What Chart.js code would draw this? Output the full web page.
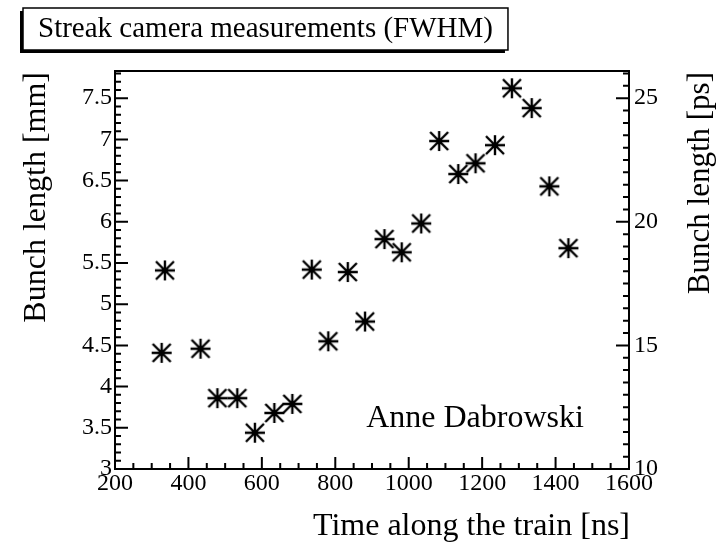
<!DOCTYPE html>
<html>
<head>
<meta charset="utf-8">
<title>Streak camera measurements (FWHM)</title>
<script src="https://cdn.jsdelivr.net/npm/chart.js@4.4.1/dist/chart.umd.min.js"></script>
<style>
  html, body { margin: 0; padding: 0; background: #fff; }
  #chart { display: block; }
</style>
</head>
<body>
<canvas id="chart" width="720" height="543"></canvas>
<script>
// Measured points: time along the train [ns] and bunch length [mm]
var timeNs = [327, 336, 433, 479, 533, 581, 634, 683, 736, 781, 834, 881,
              934, 981, 1034, 1083, 1135, 1182, 1235, 1281, 1335, 1383, 1435];
var bunchMm = [4.41, 5.41, 4.46, 3.86, 3.86, 3.44, 3.68, 3.79, 5.42, 4.55, 5.39, 4.79,
               5.79, 5.63, 5.98, 6.98, 6.58, 6.71, 6.93, 7.62, 7.38, 6.43, 5.68];

// Tick labels on the three axes
var timeTicks = [200, 400, 600, 800, 1000, 1200, 1400, 1600];
var mmTicks = [3, 3.5, 4, 4.5, 5, 5.5, 6, 6.5, 7, 7.5];
var psTicks = [10, 15, 20, 25];

// Axis ranges
var timeMin = 200, timeMax = 1600;
var mmMin = 3, mmMax = 7.83;
var mmPerPs = 0.3; // c = 0.3 mm/ps, used for the right hand axis

var serif = '"Liberation Serif", "DejaVu Serif", serif';

// Function to build the asterisk marker used for every point
function makeStarMarker() {
    var c = document.createElement('canvas');
    c.width = 24;
    c.height = 24;
    var g = c.getContext('2d');
    g.strokeStyle = '#000';
    g.lineWidth = 2.4;
    g.beginPath();
    g.moveTo(2, 12); g.lineTo(22, 12);
    g.moveTo(12, 2); g.lineTo(12, 22);
    g.moveTo(3, 3); g.lineTo(21, 21);
    g.moveTo(21, 3); g.lineTo(3, 21);
    g.stroke();
    return c;
}

// Function to replace the generated ticks with a fixed list
function fixedTicks(values) {
    return function (scale) {
        scale.ticks = values.map(function (v) { return { value: v }; });
    };
}

// Plugin drawing the ROOT style frame, inside ticks, titles and the note
var rootDecor = {
    id: 'rootDecor',
    afterDraw: function (chart) {
        var ctx = chart.ctx;
        var area = chart.chartArea;
        var xs = chart.scales.x;
        var yl = chart.scales.y;
        var yr = chart.scales.yPs;
        var i, p, len;

        ctx.save();
        ctx.strokeStyle = '#000';
        ctx.fillStyle = '#000';
        ctx.lineWidth = 2;

        // Frame round the plot
        ctx.strokeRect(area.left, area.top, area.right - area.left, area.bottom - area.top);

        ctx.beginPath();
        // Bottom axis ticks, major every 200 ns, minor every 50 ns
        for (i = 0; timeMin + i * 50 <= timeMax; i++) {
            p = xs.getPixelForValue(timeMin + i * 50);
            len = (i % 4 === 0) ? 12 : 6;
            ctx.moveTo(p, area.bottom);
            ctx.lineTo(p, area.bottom - len);
        }
        // Left axis ticks, major every 0.5 mm, minor every 0.1 mm
        for (i = 0; mmMin + i * 0.1 <= mmMax + 1e-9; i++) {
            p = yl.getPixelForValue(mmMin + i * 0.1);
            len = (i % 5 === 0) ? 13 : 6;
            ctx.moveTo(area.left, p);
            ctx.lineTo(area.left + len, p);
        }
        // Right axis ticks, major every 5 ps, minor every 0.5 ps
        for (i = 0; 10 + i * 0.5 <= yr.max + 1e-9; i++) {
            p = yr.getPixelForValue(10 + i * 0.5);
            len = (i % 10 === 0) ? 13 : 6;
            ctx.moveTo(area.right, p);
            ctx.lineTo(area.right - len, p);
        }
        ctx.stroke();

        // Header box with its shadow
        var header = 'Streak camera measurements (FWHM)';
        ctx.font = '29px ' + serif;
        var w = ctx.measureText(header).width;
        var bx = 23, by = 8, bw = w + 30, bh = 42;
        ctx.fillRect(bx - 3, by + 3, bw, bh);
        ctx.fillStyle = '#fff';
        ctx.fillRect(bx, by, bw, bh);
        ctx.lineWidth = 1.5;
        ctx.strokeRect(bx, by, bw, bh);
        ctx.fillStyle = '#000';
        ctx.textAlign = 'left';
        ctx.textBaseline = 'alphabetic';
        ctx.fillText(header, bx + 15, 37);

        // Axis titles
        ctx.font = '32px ' + serif;
        ctx.textAlign = 'right';
        ctx.fillText('Time along the train [ns]', area.right + 1, 535);

        ctx.save();
        ctx.translate(45, area.top + 1);
        ctx.rotate(-Math.PI / 2);
        ctx.fillText('Bunch length [mm]', 0, 0);
        ctx.restore();

        ctx.font = '31px ' + serif;
        ctx.save();
        ctx.translate(709, area.top + 1);
        ctx.rotate(-Math.PI / 2);
        ctx.fillText('Bunch length [ps]', 0, 0);
        ctx.restore();

        // Author note inside the plot
        ctx.font = '32px ' + serif;
        ctx.textAlign = 'left';
        ctx.fillText('Anne Dabrowski', xs.getPixelForValue(884), yl.getPixelForValue(3.51));

        ctx.restore();
    }
};

var points = timeNs.map(function (t, k) { return { x: t, y: bunchMm[k] }; });

var ctx = document.getElementById('chart').getContext('2d');
var chart = new Chart(ctx, {
    type: 'scatter',
    data: {
        datasets: [{
            label: 'Bunch length',
            data: points,
            pointStyle: makeStarMarker(),
            pointRadius: 12,
            pointHoverRadius: 12,
            showLine: false
        }]
    },
    options: {
        responsive: false,
        animation: false,
        events: [],
        layout: { padding: { top: 71, left: 0, right: 0, bottom: 0 } },
        plugins: {
            legend: { display: false },
            tooltip: { enabled: false }
        },
        scales: {
            x: {
                type: 'linear',
                position: 'bottom',
                min: timeMin,
                max: timeMax,
                grid: { display: false, drawTicks: false },
                border: { display: false },
                afterBuildTicks: fixedTicks(timeTicks),
                afterFit: function (scale) { scale.height = 74; },
                ticks: {
                    color: '#000',
                    padding: 0,
                    maxRotation: 0,
                    font: { family: serif, size: 24 },
                    callback: function (value) { return String(value); }
                }
            },
            y: {
                type: 'linear',
                position: 'left',
                min: mmMin,
                max: mmMax,
                grid: { display: false, drawTicks: false },
                border: { display: false },
                afterBuildTicks: fixedTicks(mmTicks),
                afterFit: function (scale) { scale.width = 115; },
                ticks: {
                    color: '#000',
                    padding: 3,
                    font: { family: serif, size: 24 },
                    callback: function (value) { return String(value); }
                }
            },
            yPs: {
                type: 'linear',
                position: 'right',
                min: mmMin / mmPerPs,
                max: mmMax / mmPerPs,
                grid: { display: false, drawTicks: false },
                border: { display: false },
                afterBuildTicks: fixedTicks(psTicks),
                afterFit: function (scale) { scale.width = 91; },
                ticks: {
                    color: '#000',
                    padding: 5,
                    font: { family: serif, size: 24 },
                    callback: function (value) { return String(value); }
                }
            }
        }
    },
    plugins: [rootDecor]
});
</script>
</body>
</html>
